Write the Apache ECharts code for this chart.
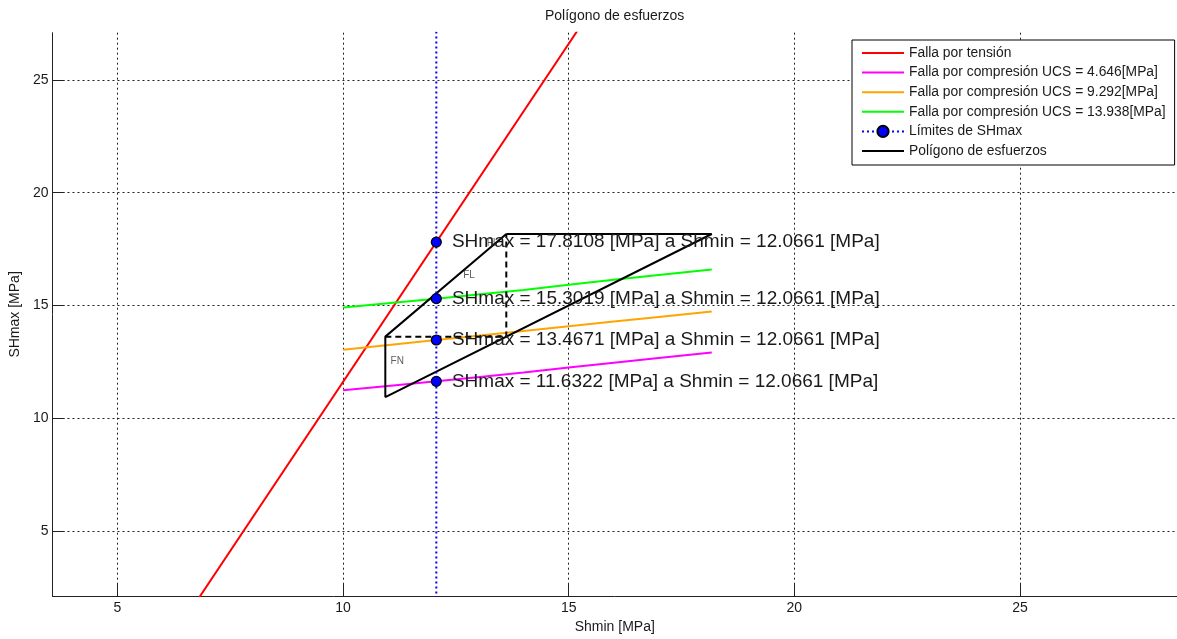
<!DOCTYPE html>
<html>
<head>
<meta charset="utf-8">
<script src="https://cdn.jsdelivr.net/npm/echarts@6/dist/echarts.min.js"></script>
<style>html,body{margin:0;padding:0;background:#fff}#c{width:1177px;height:639px}</style>
</head>
<body>
<div id="c"></div>
<script>
// ---- data ----
const xTicks = [5, 10, 15, 20, 25];
const yTicks = [5, 10, 15, 20, 25];
const tensionLine = [[6.5, 1.11], [15.5, 28.11]];
const ucs1Line = [[10, 11.235], [12.0661, 11.6322], [14, 12.03], [16, 12.46], [18.17, 12.91]];
const ucs2Line = [[10, 13.03], [12.0661, 13.4671], [14, 13.87], [16, 14.29], [18.17, 14.73]];
const ucs3Line = [[10, 14.91], [12.0661, 15.3019], [14, 15.69], [16, 16.14], [18.17, 16.60]];
const shminValue = 12.0661;
const shmaxLimits = [11.6322, 13.4671, 15.3019, 17.8108];
const shmaxLineEnds = [0, 30];
const polygonSolid = [[13.617, 18.17], [18.17, 18.17], [10.936, 10.936], [10.936, 13.617], [13.617, 18.17]];
const polygonDashed = [[10.936, 13.617], [13.617, 13.617], [13.617, 18.17]];
const regionLabels = [['FL', 12.79, 16.32], ['FN', 11.2, 12.51], ['FI', 13.28, 17.78]];
const names = ['Falla por tensión', 'Falla por compresión UCS = 4.646[MPa]', 'Falla por compresión UCS = 9.292[MPa]', 'Falla por compresión UCS = 13.938[MPa]', 'Límites de SHmax', 'Polígono de esfuerzos'];

// ---- chart ----
const FONT = "'Liberation Sans', Arial, sans-serif";
const TXT = '#1a1a1a';
const chart = echarts.init(document.getElementById('c'));

const limitData = [{value: [shminValue, shmaxLineEnds[0]], symbol: 'none', label: {show: false}}];
shmaxLimits.forEach(v => limitData.push({value: [shminValue, v]}));
limitData.push({value: [shminValue, shmaxLineEnds[1]], symbol: 'none', label: {show: false}});

const gridLine = {show: true, lineStyle: {color: '#222', type: [2, 3], width: 1}};
const axisCommon = {
  axisLine: {show: true, onZero: false, lineStyle: {color: '#222', width: 1}},
  axisTick: {show: true, inside: true, length: 12, lineStyle: {color: '#222'}},
  splitLine: gridLine,
  nameTextStyle: {fontFamily: FONT, fontSize: 14, color: TXT},
};

const legendData = names.map((n, i) => i === 4 ? {name: n} : {name: n, itemStyle: {opacity: 0}});

chart.setOption({
  animation: false,
  backgroundColor: '#fff',
  textStyle: {fontFamily: FONT},
  title: {
    text: 'Polígono de esfuerzos', left: 540, top: 4,
    textStyle: {fontFamily: FONT, fontSize: 14, fontWeight: 'normal', color: TXT}
  },
  grid: {left: 50.7, right: 0, top: 32.7, bottom: 39.7, containLabel: false},
  legend: {
    data: legendData, orient: 'vertical', left: 852, top: 40,
    padding: [6, 9, 7, 9], itemWidth: 42, itemHeight: 14, itemGap: 5.6,
    backgroundColor: '#fff', borderColor: '#000', borderWidth: 1, borderRadius: 0,
    textStyle: {fontFamily: FONT, fontSize: 13.85, color: TXT, lineHeight: 14},
    z: 10
  },
  xAxis: Object.assign({}, axisCommon, {
    type: 'value', min: 3.56, max: 28.48,
    name: 'Shmin [MPa]', nameLocation: 'middle', nameGap: 23,
    axisTick: Object.assign({}, axisCommon.axisTick, {customValues: xTicks}),
    axisLabel: {customValues: xTicks, margin: 5, fontFamily: FONT, fontSize: 14, color: TXT}
  }),
  yAxis: Object.assign({}, axisCommon, {
    type: 'value', min: 2.106, max: 27.1,
    name: 'SHmax [MPa]', nameLocation: 'middle', nameGap: 30, nameRotate: 90,
    axisTick: Object.assign({}, axisCommon.axisTick, {customValues: yTicks}),
    axisLabel: {customValues: yTicks, margin: 4, fontFamily: FONT, fontSize: 14, color: TXT}
  }),
  series: [
    {name: names[0], type: 'line', data: tensionLine, symbol: 'none', clip: true,
     lineStyle: {color: '#ff0000', width: 2}, itemStyle: {color: '#ff0000'}, z: 3},
    {name: names[1], type: 'line', data: ucs1Line, symbol: 'none', smooth: 0.3,
     lineStyle: {color: '#ff00ff', width: 2}, itemStyle: {color: '#ff00ff'}, z: 3},
    {name: names[2], type: 'line', data: ucs2Line, symbol: 'none', smooth: 0.3,
     lineStyle: {color: '#ffa500', width: 2}, itemStyle: {color: '#ffa500'}, z: 3},
    {name: names[3], type: 'line', data: ucs3Line, symbol: 'none', smooth: 0.3,
     lineStyle: {color: '#00ff00', width: 2}, itemStyle: {color: '#00ff00'}, z: 3},
    {name: names[5], type: 'line', data: polygonSolid, symbol: 'none',
     lineStyle: {color: '#000', width: 2}, itemStyle: {color: '#000'}, z: 4},
    {name: 'dashed', type: 'line', data: polygonDashed, symbol: 'none',
     lineStyle: {color: '#000', width: 2, type: [6, 4]}, z: 4},
    {name: 'regiones', type: 'scatter', symbolSize: 0, z: 4,
     data: regionLabels.map(r => ({name: r[0], value: [r[1], r[2]]})),
     label: {show: true, position: 'inside', formatter: p => p.name,
             fontFamily: FONT, fontSize: 10, color: '#333'}},
    {name: names[4], type: 'line', data: limitData, symbol: 'circle', symbolSize: 10,
     clip: true, showAllSymbol: true,
     lineStyle: {color: '#0000ff', width: 2, type: [2, 3]},
     itemStyle: {color: '#0000ff', borderColor: '#000', borderWidth: 1.2},
     label: {show: true, position: 'right', distance: 10,
             formatter: p => 'SHmax = ' + p.value[1].toFixed(4) + ' [MPa] a Shmin = ' + p.value[0].toFixed(4) + ' [MPa]',
             fontFamily: FONT, fontSize: 19, color: TXT},
     z: 6}
  ]
});
</script>
</body>
</html>
